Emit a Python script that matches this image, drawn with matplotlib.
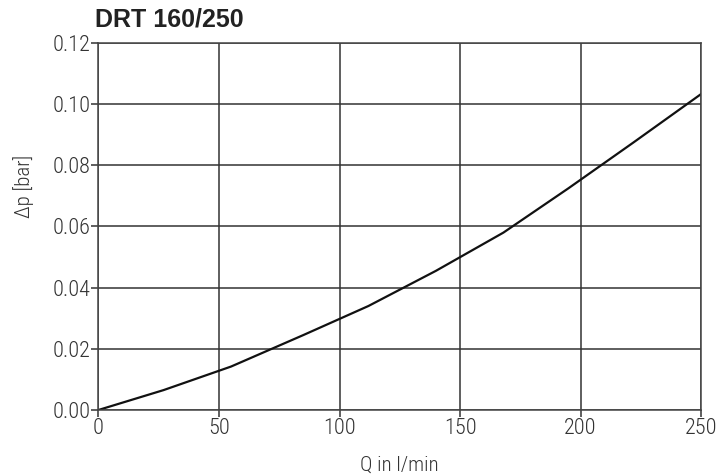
import matplotlib.pyplot as plt

q = [0, 27, 55, 85, 112, 140, 168, 195, 222, 250]
dp = [0, 0.0065, 0.0142, 0.0245, 0.034, 0.0455, 0.058, 0.0725, 0.0875, 0.1033]
xticks = [0, 50, 100, 150, 200, 250]
yticks = [0.00, 0.02, 0.04, 0.06, 0.08, 0.10, 0.12]

cond = 'Roboto Condensed'

fig = plt.figure(figsize=(7.22, 4.76), dpi=100)
ax = fig.add_axes([0.1364, 0.1387, 0.8346, 0.771])
ax.plot(q, dp, color='#111111', lw=1.6)
ax.set_xlim(0, 250)
ax.set_ylim(0, 0.12)
ax.set_xticks(xticks)
ax.set_yticks(yticks)
ax.set_xticklabels([str(v) for v in xticks], fontfamily=cond, fontweight='light', fontsize=16, color='#333333')
ax.set_yticklabels(['%.2f' % v for v in yticks], fontfamily=cond, fontweight='light', fontsize=16, color='#333333')
ax.grid(True, color='#333333', lw=1.1)
ax.tick_params(length=5, width=1.1, color='#333333', pad=1)
for s in ax.spines.values():
    s.set_color('#444444')
    s.set_linewidth(1.1)
ax.set_ylabel('Δp [bar]', fontfamily=cond, fontweight='light', fontsize=15, color='#333333')
ax.yaxis.set_label_coords(-0.107, 0.61)
ax.set_xlabel('Q in l/min', fontfamily=cond, fontweight='light', fontsize=15, color='#333333', labelpad=12)
ax.set_title('DRT 160/250', loc='left', fontfamily='Liberation Sans', fontweight='bold',
             fontsize=18, color='#222222', pad=12, x=-0.006)
fig.savefig('out.png', dpi=100)
